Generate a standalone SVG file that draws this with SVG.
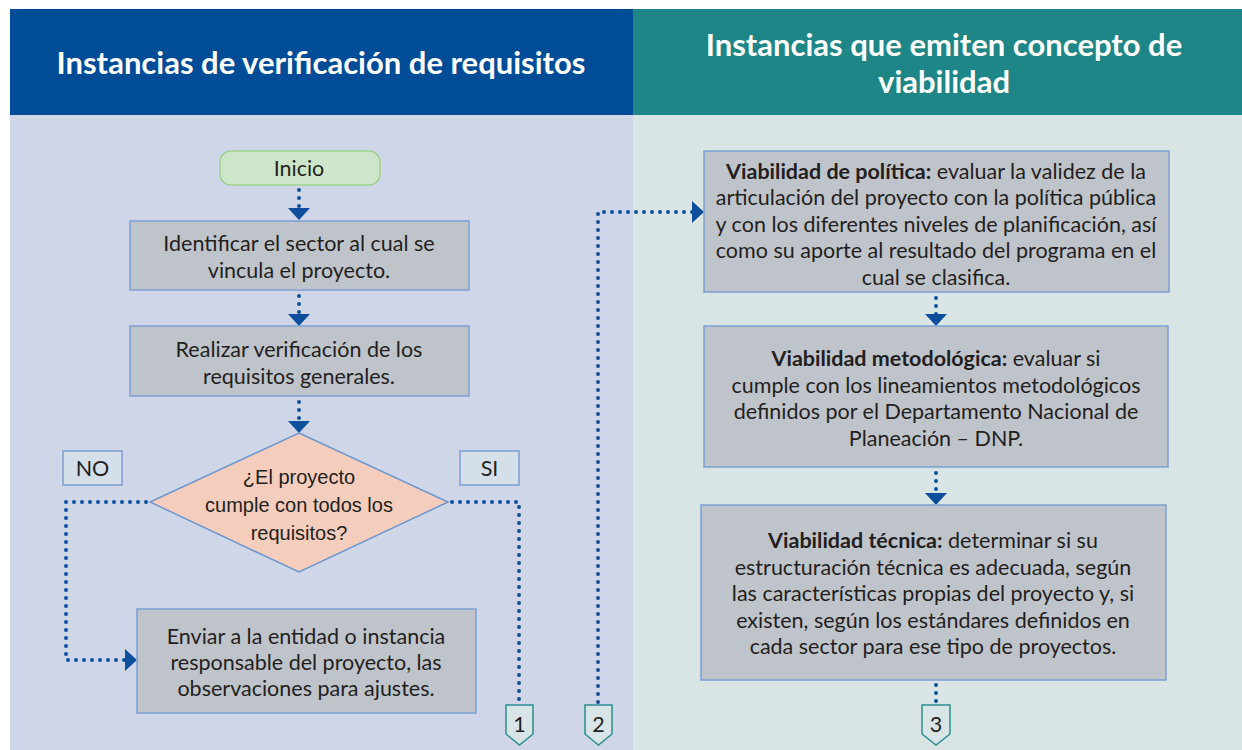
<svg xmlns="http://www.w3.org/2000/svg" width="1242" height="750" viewBox="0 0 1242 750">
<defs>
<style>
.t{font-family:Lato,"Liberation Sans",sans-serif;font-size:21.5px;fill:#231f20;text-anchor:middle}
.h{font-family:Lato,"Liberation Sans",sans-serif;font-size:31px;font-weight:bold;fill:#ffffff;text-anchor:middle}
.n{font-family:"Liberation Sans Narrow","Liberation Sans",sans-serif;font-size:20px;fill:#231f20;text-anchor:middle}
.b{font-weight:bold}
.box{fill:#bfc3ca;stroke:#7c9fd3;stroke-width:1.5}
.lab{fill:#d5dfe9;stroke:#7c9fd3;stroke-width:1.5}
.off{fill:#d8e4e6;stroke:#2a8f8f;stroke-width:1.5}
.dot{fill:none;stroke:#0d4f9c;stroke-width:4;stroke-linecap:round;stroke-dasharray:0 8}
</style>
<marker id="ah" viewBox="0 0 12 22" refX="12" refY="11" markerWidth="12" markerHeight="22" markerUnits="userSpaceOnUse" orient="auto">
<path d="M0,0 L12,11 L0,22 Z" fill="#0d4f9c"/>
</marker>
</defs>

<rect x="0" y="0" width="1242" height="750" fill="#ffffff"/>
<rect x="10" y="9" width="623" height="106" fill="#004c97"/>
<rect x="633" y="9" width="609" height="106" fill="#1e8686"/>
<rect x="10" y="115" width="623" height="635" fill="#ced6e8"/>
<rect x="633" y="115" width="609" height="635" fill="#d9e5e5"/>
<text class="h" x="321" y="74">Instancias de verificación de requisitos</text>
<text class="h" x="944" y="56">Instancias que emiten concepto de</text>
<text class="h" x="944" y="93">viabilidad</text>

<g id="connectors">
<path class="dot" d="M299,190 L299,220" marker-end="url(#ah)"/>
<path class="dot" d="M299,296 L299,326" marker-end="url(#ah)"/>
<path class="dot" d="M299,402 L299,433" marker-end="url(#ah)"/>
<path class="dot" d="M146,502 L66,502 L66,660 L137,660" marker-end="url(#ah)"/>
<path class="dot" d="M452,502 L519,502 L519,702"/>
<path class="dot" d="M598,702 L598,212 L704,212" marker-end="url(#ah)"/>
<path class="dot" d="M936,298 L936,326" marker-end="url(#ah)"/>
<path class="dot" d="M936,473 L936,505" marker-end="url(#ah)"/>
<path class="dot" d="M936,685 L936,703"/>
</g>

<g id="inicio">
<rect x="220" y="151" width="160" height="34" rx="11" fill="#cde6c9" stroke="#9dd190" stroke-width="1.5"/>
<text class="t" x="299" y="176">Inicio</text>
</g>
<g id="identificar">
<rect class="box" x="130" y="221" width="339" height="69"/>
<text class="t" x="299" y="251">Identificar el sector al cual se</text>
<text class="t" x="299" y="278">vincula el proyecto.</text>
</g>
<g id="realizar">
<rect class="box" x="130" y="326" width="339" height="70"/>
<text class="t" x="299" y="357">Realizar verificación de los</text>
<text class="t" x="299" y="384">requisitos generales.</text>
</g>
<g id="decision">
<polygon points="299,433 448,502 299,572 150,502" fill="#f4cdbc" stroke="#6f97cf" stroke-width="1.5"/>
<text class="n" x="299" y="484">¿El proyecto</text>
<text class="n" x="299" y="512">cumple con todos los</text>
<text class="n" x="299" y="540">requisitos?</text>
</g>
<g id="no">
<rect class="lab" x="63" y="451" width="59" height="34"/>
<text class="t" x="92.5" y="476">NO</text>
</g>
<g id="si">
<rect class="lab" x="460" y="451" width="59" height="34"/>
<text class="t" x="489.5" y="476">SI</text>
</g>
<g id="enviar">
<rect class="box" x="137" y="609" width="339" height="104"/>
<text class="t" x="306" y="644">Enviar a la entidad o instancia</text>
<text class="t" x="306" y="670">responsable del proyecto, las</text>
<text class="t" x="306" y="696">observaciones para ajustes.</text>
</g>
<g id="off1">
<polygon class="off" points="506,705 533,705 533,734 519.5,745 506,734"/>
<text class="t" x="519.5" y="732">1</text>
</g>
<g id="off2">
<polygon class="off" points="585,705 612,705 612,734 598.5,745 585,734"/>
<text class="t" x="598.5" y="732">2</text>
</g>
<g id="off3">
<polygon class="off" points="922,705 950,705 950,734 936,745 922,734"/>
<text class="t" x="936" y="732">3</text>
</g>

<g id="politica">
<rect class="box" x="704" y="151" width="465" height="141"/>
<text class="t" x="936" y="179"><tspan class="b">Viabilidad de política:</tspan> evaluar la validez de la</text>
<text class="t" x="936" y="205">articulación del proyecto con la política pública</text>
<text class="t" x="936" y="232">y con los diferentes niveles de planificación, así</text>
<text class="t" x="936" y="258">como su aporte al resultado del programa en el</text>
<text class="t" x="936" y="285">cual se clasifica.</text>
</g>
<g id="metodologica">
<rect class="box" x="704" y="326" width="464" height="141"/>
<text class="t" x="936" y="366"><tspan class="b">Viabilidad metodológica:</tspan> evaluar si</text>
<text class="t" x="936" y="393">cumple con los lineamientos metodológicos</text>
<text class="t" x="936" y="419">definidos por el Departamento Nacional de</text>
<text class="t" x="936" y="446">Planeación – DNP.</text>
</g>
<g id="tecnica">
<rect class="box" x="701" y="505" width="465" height="175"/>
<text class="t" x="933" y="548"><tspan class="b">Viabilidad técnica:</tspan> determinar si su</text>
<text class="t" x="933" y="575">estructuración técnica es adecuada, según</text>
<text class="t" x="933" y="601">las características propias del proyecto y, si</text>
<text class="t" x="933" y="628">existen, según los estándares definidos en</text>
<text class="t" x="933" y="654">cada sector para ese tipo de proyectos.</text>
</g>
</svg>
